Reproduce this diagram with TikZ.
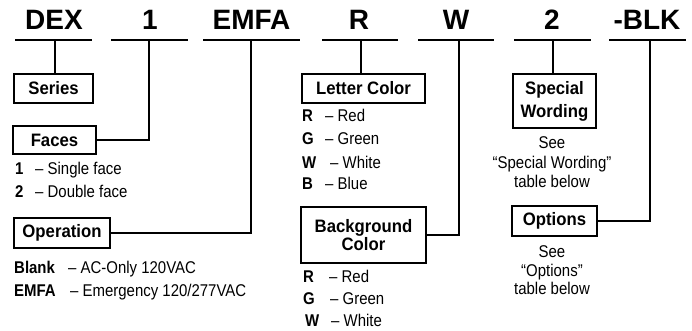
\documentclass[tikz,border=0pt]{standalone}
\usepackage{fontspec}
\setmainfont{Liberation Sans}
\newfontfamily\listfont{Liberation Sans}[FakeStretch=0.88]
\newfontfamily\boxfont{Liberation Sans}[FakeStretch=0.93]
\newcommand\kv[3]{\makebox[#2][l]{\textbf{#1}}– #3}
\begin{document}
\begin{tikzpicture}[x=1pt,y=-1pt,
  code/.style={font=\fontsize{28}{30}\selectfont\bfseries, anchor=base, inner sep=0pt},
  ul/.style={line width=2.2pt},
  conn/.style={line width=2.2pt},
  lbl/.style={draw, line width=2.6pt, font=\boxfont\fontsize{18}{18}\selectfont\bfseries, inner sep=0pt, align=center},
  lst/.style={font=\listfont\fontsize{17}{19}\selectfont, anchor=base west, inner sep=0pt},
  note/.style={font=\listfont\fontsize{17}{19}\selectfont, anchor=base, inner sep=0pt}]
\useasboundingbox[fill=white] (0,0) rectangle (692,331);

% top code
\node[code] (c1) at (54,30) {DEX};
\node[code] (c2) at (150,30) {1};
\node[code] (c3) at (251.5,30) {EMFA};
\node[code] (c4) at (359,30) {R};
\node[code] (c5) at (456,30) {W};
\node[code] (c6) at (552,30) {2};
\node[code] (c7) at (647,30) {-BLK};

% underlines
\coordinate (u1a) at (15,40);  \coordinate (u1b) at (92,40);
\coordinate (u2a) at (111,40); \coordinate (u2b) at (188,40);
\coordinate (u3a) at (203,40); \coordinate (u3b) at (300,40);
\coordinate (u4a) at (322,40); \coordinate (u4b) at (398,40);
\coordinate (u5a) at (418,40); \coordinate (u5b) at (494,40);
\coordinate (u6a) at (514,40); \coordinate (u6b) at (591,40);
\coordinate (u7a) at (609,40); \coordinate (u7b) at (686,40);
\foreach \i in {1,...,7} \draw[ul] (u\i a) -- (u\i b);

\coordinate (t1) at (55,40);
\coordinate (t2) at (149,40);
\coordinate (t3) at (251,40);
\coordinate (t4) at (361,40);
\coordinate (t5) at (459,40);
\coordinate (t6) at (553,40);
\coordinate (t7) at (650,40);

% boxes
\node[lbl, minimum width=79pt, minimum height=29pt] (ser) at (53.5,88.5) {Series};
\node[lbl, minimum width=83pt, minimum height=28pt] (fac) at (54.5,140) {Faces};
\node[lbl, minimum width=96pt, minimum height=30pt] (op) at (62,233) {Operation};
\node[lbl, minimum width=123pt, minimum height=29pt] (lc) at (363.5,88.5) {Letter Color};
\node[lbl, minimum width=125pt, minimum height=56pt, font=\boxfont\fontsize{18}{18.5}\selectfont\bfseries] (bg) at (363.5,235) {Background\\Color};
\node[lbl, minimum width=83pt, minimum height=54pt, font=\boxfont\fontsize{18}{23}\selectfont\bfseries] (sw) at (554.5,101) {Special\\Wording};
\node[lbl, minimum width=85pt, minimum height=30pt] (opt) at (554.5,221) {Options};

% connectors
\draw[conn] (t1) -- (t1 |- ser.north);
\draw[conn] (fac.east) -| (t2);
\draw[conn] (op.east) -| (t3);
\draw[conn] (t4) -- (t4 |- lc.north);
\draw[conn] (bg.east) -| (t5);
\draw[conn] (t6) -- (t6 |- sw.north);
\draw[conn] (opt.east) -| (t7);

% lists
\node[lst] (f1) at (15,175) {\kv{1}{20pt}{Single face}};
\node[lst] (f2) at (15,197) {\kv{2}{20pt}{Double face}};
\node[lst] (o1) at (14,273) {\kv{Blank}{54pt}{AC-Only 120VAC}};
\node[lst] (o2) at (14,296) {\kv{EMFA}{56pt}{Emergency 120/277VAC}};
\node[lst] (l1) at (302,122) {\kv{R}{23pt}{Red}};
\node[lst] (l2) at (302,145) {\kv{G}{23pt}{Green}};
\node[lst] (l3) at (302,168) {\kv{W}{28pt}{White}};
\node[lst] (l4) at (302,189) {\kv{B}{23pt}{Blue}};
\node[lst] (b1) at (303,282) {\kv{R}{26pt}{Red}};
\node[lst] (b2) at (303,304) {\kv{G}{27pt}{Green}};
\node[lst] (b3) at (305,326) {\kv{W}{26pt}{White}};

\node[note] (s1) at (552,149) {See};
\node[note] (s2) at (552,168) {“Special Wording”};
\node[note] (s3) at (552,187) {table below};
\node[note] (p1) at (552,257) {See};
\node[note] (p2) at (552,276) {“Options”};
\node[note] (p3) at (552,294) {table below};
\end{tikzpicture}
\end{document}
